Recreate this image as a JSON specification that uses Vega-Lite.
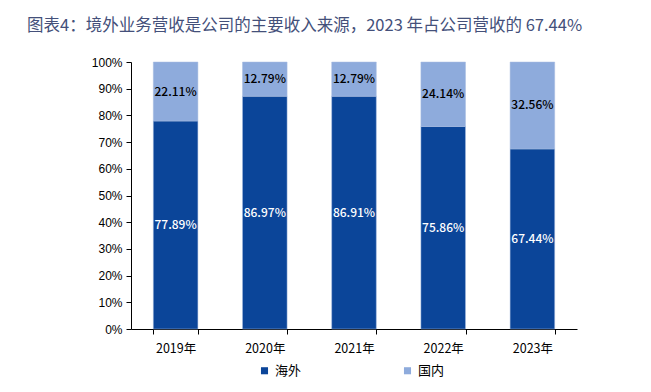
{
  "$schema": "https://vega.github.io/schema/vega-lite/v6.json",
  "autosize": {"type": "none"},
  "width": 446,
  "height": 267,
  "padding": {"left": 131, "top": 62, "right": 74, "bottom": 63},
  "background": "white",
  "title": {
    "text": "图表4：境外业务营收是公司的主要收入来源，2023 年占公司营收的 67.44%",
    "anchor": "start",
    "frame": "group",
    "dx": -104,
    "offset": 22,
    "font": "Noto Sans CJK SC",
    "fontSize": 16.5,
    "fontWeight": "normal",
    "color": "#44507A"
  },
  "data": {
    "values": [
      {"year": "2019年", "type": "海外", "value": 0.7789},
      {"year": "2019年", "type": "国内", "value": 0.2211},
      {"year": "2020年", "type": "海外", "value": 0.8697},
      {"year": "2020年", "type": "国内", "value": 0.1279},
      {"year": "2021年", "type": "海外", "value": 0.8691},
      {"year": "2021年", "type": "国内", "value": 0.1279},
      {"year": "2022年", "type": "海外", "value": 0.7586},
      {"year": "2022年", "type": "国内", "value": 0.2414},
      {"year": "2023年", "type": "海外", "value": 0.6744},
      {"year": "2023年", "type": "国内", "value": 0.3256}
    ]
  },
  "transform": [
    {"calculate": "datum.type === '海外' ? 0 : 1", "as": "ord"},
    {"stack": "value", "groupby": ["year"], "sort": [{"field": "ord", "order": "ascending"}], "offset": "normalize", "as": ["y0", "y1"]},
    {"calculate": "(datum.y0 + datum.y1) / 2", "as": "ymid"}
  ],
  "encoding": {
    "x": {
      "field": "year",
      "type": "nominal",
      "title": null,
      "scale": {"paddingInner": 0.5, "paddingOuter": 0.25},
      "axis": {
        "labelAngle": 0,
        "labelFont": "Noto Sans CJK SC",
        "labelFontSize": 12.5,
        "labelColor": "black",
        "labelPadding": 8,
        "domainColor": "black",
        "tickColor": "black",
        "tickSize": 5,
        "tickBand": "extent"
      }
    }
  },
  "layer": [
    {
      "mark": {"type": "bar", "stroke": "#A9BCE0", "strokeWidth": 0.5},
      "encoding": {
        "y": {
          "field": "y0",
          "type": "quantitative",
          "title": null,
          "scale": {"domain": [0, 1], "nice": false},
          "axis": {
            "values": [0, 0.1, 0.2, 0.3, 0.4, 0.5, 0.6, 0.7, 0.8, 0.9, 1],
            "format": ".0%",
            "grid": false,
            "labelOverlap": false,
            "labelFont": "Liberation Sans",
            "labelFontSize": 12,
            "labelColor": "black",
            "domainColor": "black",
            "tickColor": "black",
            "tickSize": 5,
            "labelPadding": 4
          }
        },
        "y2": {"field": "y1"},
        "color": {
          "field": "type",
          "type": "nominal",
          "scale": {"domain": ["海外", "国内"], "range": ["#0B4599", "#8EABDC"]},
          "legend": {
            "title": null,
            "orient": "none",
            "direction": "horizontal",
            "legendX": 127,
            "legendY": 302,
            "symbolType": "square",
            "symbolSize": 50,
            "symbolStrokeWidth": 0,
            "labelFont": "Noto Sans CJK SC",
            "labelFontSize": 13,
            "labelColor": "black",
            "columnPadding": 99,
            "labelOffset": 4
          }
        }
      }
    },
    {
      "mark": {"type": "text", "font": "Noto Sans CJK SC", "fontSize": 12, "fontWeight": 500},
      "encoding": {
        "y": {
          "field": "ymid",
          "type": "quantitative",
          "title": null,
          "scale": {"domain": [0, 1], "nice": false},
          "axis": {
            "values": [0, 0.1, 0.2, 0.3, 0.4, 0.5, 0.6, 0.7, 0.8, 0.9, 1],
            "format": ".0%",
            "grid": false,
            "labelOverlap": false,
            "labelFont": "Liberation Sans",
            "labelFontSize": 12,
            "labelColor": "black",
            "domainColor": "black",
            "tickColor": "black",
            "tickSize": 5,
            "labelPadding": 4
          }
        },
        "text": {"field": "value", "type": "quantitative", "format": ".2%"},
        "color": {
          "condition": {"test": "datum.type === '海外'", "value": "white"},
          "value": "black"
        }
      }
    }
  ],
  "config": {"view": {"stroke": null}}
}
